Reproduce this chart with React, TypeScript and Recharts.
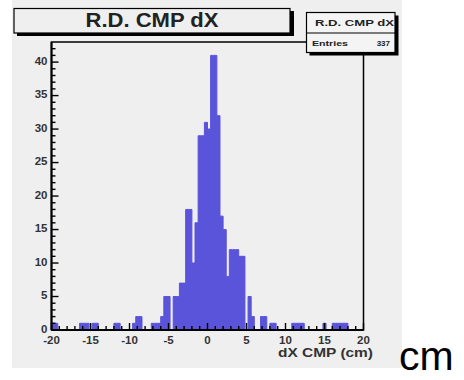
import { ComposedChart, Area, XAxis, YAxis, ReferenceArea } from "recharts";

// histogram: 100 bins of 0.4 cm from -20 to 20
const binLow = -20;
const binWidth = 0.4;
const counts = [
  1, 1, 0, 0, 0, 0, 0, 0, 0, 1,
  1, 1, 0, 1, 1, 0, 0, 0, 0, 0,
  1, 1, 0, 0, 0, 0, 1, 2, 2, 0,
  0, 0, 1, 1, 1, 2, 5, 5, 0, 5,
  5, 7, 7, 18, 18, 10, 16, 29, 29, 31,
  30, 41, 41, 32, 17, 15, 8, 12, 12, 12,
  11, 11, 0, 5, 2, 0, 0, 2, 2, 0,
  1, 1, 0, 0, 0, 0, 0, 1, 1, 1,
  1, 0, 0, 0, 0, 0, 0, 1, 0, 0,
  1, 1, 1, 1, 1, 0, 0, 0, 0, 0,
];
const xLabels = [-20, -15, -10, -5, 0, 5, 10, 15, 20];
const yLabels = [0, 5, 10, 15, 20, 25, 30, 35, 40];
const yMax = 43;
const title = "R.D. CMP dX";
const entries = 337;
const xTitle = "dX CMP (cm)";
const unitNote = "cm";

const FILL = "#5954d9";
const FONT = "'Liberation Sans', Arial, sans-serif";

const rows = Array.from({ length: counts.length + 1 }, (_, k) => ({
  x: +(binLow + k * binWidth).toFixed(2),
  count: counts[k] ?? 0,
}));
const xTicks = Array.from({ length: 41 }, (_, i) => -20 + i);
const yTicks = Array.from({ length: yMax }, (_, i) => i);

function XTick(props: any) {
  const { x, y, payload } = props;
  const major = xLabels.includes(payload.value);
  return (
    <g>
      <line x1={x} x2={x} y1={y} y2={y - (major ? 7 : 4)} stroke="#000" strokeWidth={1.4} />
      {major && (
        <text x={x} y={y + 14} textAnchor="middle" fontFamily={FONT} fontWeight={700} fontSize={11.5} fill="#333">
          {payload.value}
        </text>
      )}
    </g>
  );
}

function YTick(props: any) {
  const { x, y, payload } = props;
  const major = yLabels.includes(payload.value);
  return (
    <g>
      <line x1={x} x2={x + (major ? 7 : 4)} y1={y} y2={y} stroke="#000" strokeWidth={1.4} />
      {major && (
        <text x={x - 4} y={y - 1.5} dy="0.35em" textAnchor="end" fontFamily={FONT} fontWeight={700} fontSize={11.5} fill="#333">
          {payload.value}
        </text>
      )}
    </g>
  );
}

export default function App() {
  return (
    <div style={{ position: "absolute", left: 0, top: 0, width: 464, height: 380, background: "#fff" }}>
      <div style={{ position: "absolute", left: 12, top: 0, width: 390, height: 368, background: "#efefef" }} />
      <div style={{ position: "absolute", left: 0, top: 0 }}>
        <ComposedChart width={464} height={380} data={rows} margin={{ top: 42, right: 100.5, bottom: 30, left: 11.5 }}>
          <XAxis
            dataKey="x"
            type="number"
            domain={[-20, 20]}
            ticks={xTicks}
            interval={0}
            tickSize={0}
            tickMargin={0}
            height={20}
            axisLine={{ stroke: "#000", strokeWidth: 2 }}
            tick={(p: any) => <XTick {...p} />}
            allowDataOverflow
          />
          <YAxis
            type="number"
            domain={[0, yMax]}
            ticks={yTicks}
            interval={0}
            tickSize={0}
            tickMargin={0}
            width={40}
            axisLine={{ stroke: "#000", strokeWidth: 2 }}
            tick={(p: any) => <YTick {...p} />}
            allowDataOverflow
          />
          <Area
            type="stepAfter"
            dataKey="count"
            stroke={FILL}
            strokeWidth={1}
            fill={FILL}
            fillOpacity={1}
            baseValue={0}
            dot={false}
            activeDot={false}
            isAnimationActive={false}
          />
          <ReferenceArea x1={-20} x2={20} y1={0} y2={yMax} fill="none" stroke="#000" strokeWidth={1.5} ifOverflow="visible" />
        </ComposedChart>
      </div>
      <svg width={464} height={380} style={{ position: "absolute", left: 0, top: 0, pointerEvents: "none" }}>
        {/* title box with shadow */}
        <rect x={17} y={11} width={277} height={25} fill="#000" />
        <rect x={14} y={8.5} width={276} height={24.5} fill="#efefef" stroke="#000" strokeWidth={1.2} />
        <text x={152} y={26.5} textAnchor="middle" fontFamily={FONT} fontWeight={700} fontSize={20} fill="#222" textLength={133} lengthAdjust="spacingAndGlyphs">
          {title}
        </text>
        {/* stats box */}
        <rect x={309.5} y={15.5} width={89} height={40} fill="#000" />
        <rect x={306.5} y={12.5} width={88.5} height={40} fill="#f4f4f4" stroke="#000" strokeWidth={1.2} />
        <line x1={306.5} x2={395} y1={33} y2={33} stroke="#000" strokeWidth={1.2} />
        <text x={315} y={26} fontFamily={FONT} fontWeight={700} fontSize={9} fill="#222" textLength={79} lengthAdjust="spacingAndGlyphs">
          {title}
        </text>
        <text x={312} y={46} fontFamily={FONT} fontWeight={700} fontSize={8} fill="#222" textLength={36} lengthAdjust="spacingAndGlyphs">
          Entries
        </text>
        <text x={390} y={46} textAnchor="end" fontFamily={FONT} fontWeight={700} fontSize={8} fill="#222">
          {entries}
        </text>
        {/* axis title */}
        <text x={373} y={357} textAnchor="end" fontFamily={FONT} fontWeight={700} fontSize={13} fill="#333" textLength={95} lengthAdjust="spacingAndGlyphs">
          {xTitle}
        </text>
        <text x={399} y={370} fontFamily={FONT} fontSize={41} fill="#000">
          {unitNote}
        </text>
      </svg>
    </div>
  );
}
